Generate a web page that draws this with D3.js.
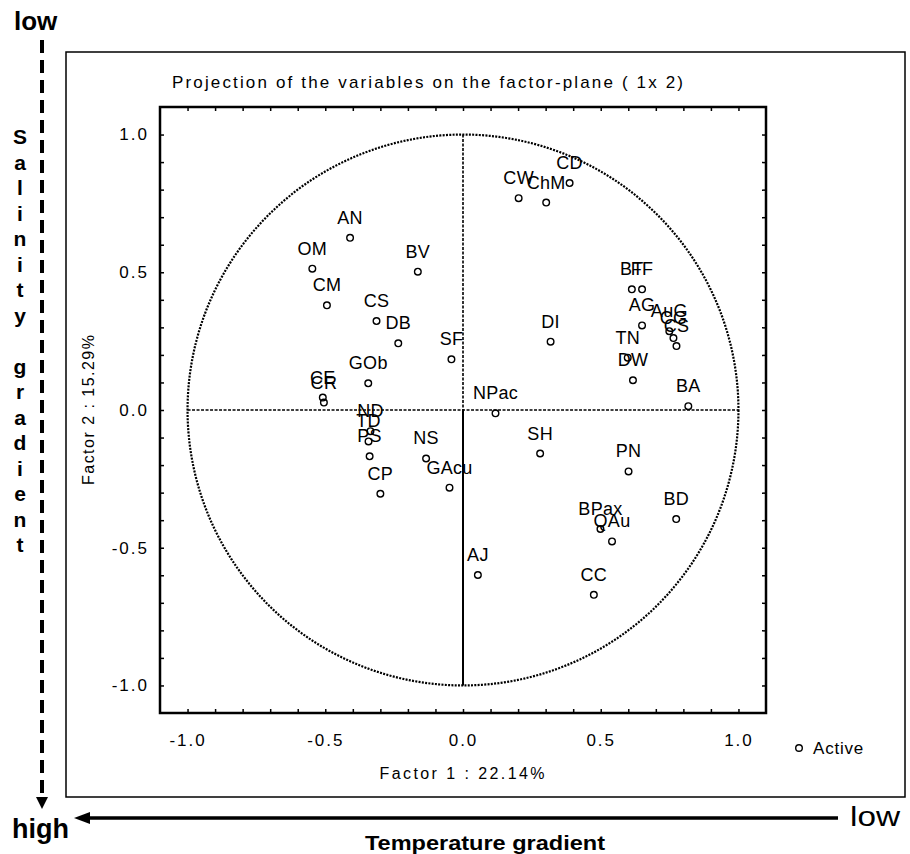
<!DOCTYPE html>
<html>
<head>
<meta charset="utf-8">
<script src="https://cdn.jsdelivr.net/npm/d3@7"></script>
<style>
  body { margin: 0; background: #fff; }
  svg { display: block; }
  text { font-family: "Liberation Sans", Arial, sans-serif; fill: #000; }
</style>
</head>
<body>
<div id="chart"></div>
<script>
// Variables projected on factor plane 1 x 2
const labels = ['CD', 'CW', 'ChM', 'AN', 'OM', 'CM', 'BV', 'CS', 'DB', 'SF', 'DI', 'GOb', 'CE', 'CR',
  'NPac', 'ND', 'TD', 'PS', 'NS', 'GAcu', 'CP', 'AJ', 'SH', 'PN', 'BD', 'BPax', 'QAu', 'CC', 'BA',
  'BT', 'FF', 'AG', 'AuG', 'CG', 'CS', 'TN', 'DW'];
const factor1 = [0.387, 0.202, 0.302, -0.410, -0.547, -0.494, -0.164, -0.314, -0.235, -0.042, 0.318, -0.344, -0.509, -0.505,
  0.118, -0.336, -0.343, -0.339, -0.134, -0.049, -0.300, 0.054, 0.280, 0.601, 0.774, 0.499, 0.541, 0.475, 0.818,
  0.613, 0.650, 0.650, 0.749, 0.764, 0.775, 0.598, 0.617];
const factor2 = [0.824, 0.769, 0.753, 0.625, 0.513, 0.380, 0.502, 0.323, 0.242, 0.184, 0.248, 0.097, 0.045, 0.027,
  -0.012, -0.077, -0.114, -0.168, -0.176, -0.282, -0.304, -0.599, -0.158, -0.223, -0.396, -0.432, -0.477, -0.671, 0.014,
  0.438, 0.438, 0.307, 0.286, 0.261, 0.232, 0.190, 0.108];

const tickValues = d3.range(-10, 11).map(i => i / 10);
const labelTicks = [-1.0, -0.5, 0.0, 0.5, 1.0];
const salinityLetters = ['S', 'a', 'l', 'i', 'n', 'i', 't', 'y', '', 'g', 'r', 'a', 'd', 'i', 'e', 'n', 't'];

const W = 910, H = 854;
const plot = { left: 160, right: 766, top: 107, bottom: 713 };

const svg = d3.select('#chart').append('svg')
  .attr('width', W)
  .attr('height', H);

// Scales
const x = d3.scaleLinear().domain([-1.1, 1.1]).range([plot.left, plot.right]);
const y = d3.scaleLinear().domain([-1.1, 1.1]).range([plot.bottom, plot.top]);

// Outer box
svg.append('rect')
  .attr('x', 66).attr('y', 52)
  .attr('width', 839).attr('height', 745)
  .attr('fill', 'none')
  .attr('stroke', '#000')
  .attr('stroke-width', 1.5);

// Title
svg.append('text')
  .attr('x', 172).attr('y', 88)
  .attr('font-size', 17)
  .attr('textLength', 511)
  .attr('lengthAdjust', 'spacing')
  .text('Projection of the variables on the factor-plane ( 1x 2)');

// Axes (inward ticks), plain hyphen for negatives
const locale = d3.formatLocale({ decimal: '.', thousands: ',', grouping: [3], currency: ['$', ''], minus: '-' });
const fmt = locale.format('.1f');
const labelFmt = d => labelTicks.some(v => Math.abs(v - d) < 1e-9) ? fmt(d) : '';

const xAxis = d3.axisBottom(x).tickValues(tickValues).tickSize(-4).tickPadding(21).tickFormat(labelFmt);
const yAxis = d3.axisLeft(y).tickValues(tickValues).tickSize(-4).tickPadding(11).tickFormat(labelFmt);
const xAxisTop = d3.axisTop(x).tickValues(tickValues).tickSize(-4).tickFormat('');
const yAxisRight = d3.axisRight(y).tickValues(tickValues).tickSize(-4).tickFormat('');

function styleAxis(g) {
  g.select('.domain').remove();
  g.selectAll('.tick line').attr('stroke', '#000').attr('stroke-width', 1.5);
  g.selectAll('.tick text')
    .attr('font-family', '"Liberation Sans", Arial, sans-serif')
    .attr('font-size', 17)
    .attr('letter-spacing', 2)
    .attr('fill', '#000');
}

svg.append('g').attr('transform', `translate(0,${plot.bottom})`).call(xAxis).call(styleAxis);
svg.append('g').attr('transform', `translate(${plot.left},0)`).call(yAxis).call(styleAxis);
svg.append('g').attr('transform', `translate(0,${plot.top})`).call(xAxisTop).call(styleAxis);
svg.append('g').attr('transform', `translate(${plot.right},0)`).call(yAxisRight).call(styleAxis);

// Plot frame
svg.append('rect')
  .attr('x', plot.left).attr('y', plot.top)
  .attr('width', plot.right - plot.left).attr('height', plot.bottom - plot.top)
  .attr('fill', 'none')
  .attr('stroke', '#000')
  .attr('stroke-width', 2.5);

// Unit circle
svg.append('circle')
  .attr('cx', x(0)).attr('cy', y(0))
  .attr('r', x(1) - x(0))
  .attr('fill', 'none')
  .attr('stroke', '#000')
  .attr('stroke-width', 2.2)
  .attr('stroke-dasharray', '2 1.3');

// Cross lines
svg.append('line')
  .attr('x1', x(-1)).attr('x2', x(1))
  .attr('y1', y(0)).attr('y2', y(0))
  .attr('stroke', '#000').attr('stroke-width', 1.6)
  .attr('stroke-dasharray', '3 1.5');
svg.append('line')
  .attr('x1', x(0)).attr('x2', x(0))
  .attr('y1', y(1)).attr('y2', y(0))
  .attr('stroke', '#000').attr('stroke-width', 1.6)
  .attr('stroke-dasharray', '3 1.5');
svg.append('line')
  .attr('x1', x(0)).attr('x2', x(0))
  .attr('y1', y(0)).attr('y2', y(-1))
  .attr('stroke', '#000').attr('stroke-width', 2);

// Points + labels
const points = labels.map((l, i) => ({ label: l, f1: factor1[i], f2: factor2[i] }));

const pts = svg.append('g').selectAll('g')
  .data(points)
  .join('g')
  .attr('transform', d => `translate(${x(d.f1)},${y(d.f2)})`);

pts.append('circle')
  .attr('r', 3.3)
  .attr('fill', 'none')
  .attr('stroke', '#000')
  .attr('stroke-width', 1.4);

pts.append('text')
  .attr('y', -14)
  .attr('text-anchor', 'middle')
  .attr('font-size', 18)
  .attr('letter-spacing', 0.3)
  .text(d => d.label);

// Axis titles
svg.append('text')
  .attr('x', 462).attr('y', 779)
  .attr('text-anchor', 'middle')
  .attr('font-size', 16)
  .attr('textLength', 165)
  .attr('lengthAdjust', 'spacing')
  .text('Factor 1 : 22.14%');

svg.append('text')
  .attr('transform', `translate(94,${y(0)}) rotate(-90)`)
  .attr('text-anchor', 'middle')
  .attr('font-size', 16)
  .attr('textLength', 150)
  .attr('lengthAdjust', 'spacing')
  .text('Factor 2 : 15.29%');

// Legend
svg.append('circle')
  .attr('cx', 799).attr('cy', 748)
  .attr('r', 3.3)
  .attr('fill', 'none')
  .attr('stroke', '#000')
  .attr('stroke-width', 1.4);
svg.append('text')
  .attr('x', 813).attr('y', 754)
  .attr('font-size', 17)
  .attr('letter-spacing', 0.8)
  .text('Active');

// Gradient annotations
const serif = '"Liberation Serif", "Times New Roman", serif';

svg.append('text')
  .attr('x', 14).attr('y', 30)
  .attr('font-family', serif)
  .attr('font-weight', 'bold')
  .attr('font-size', 26)
  .text('low');

svg.append('line')
  .attr('x1', 42).attr('x2', 42)
  .attr('y1', 40).attr('y2', 798)
  .attr('stroke', '#000').attr('stroke-width', 4)
  .attr('stroke-dasharray', '13 7');
svg.append('path')
  .attr('d', 'M36,797 L48,797 L42,809 Z')
  .attr('fill', '#000');

svg.append('g')
  .selectAll('text')
  .data(salinityLetters)
  .join('text')
  .attr('x', 20)
  .attr('y', (d, i) => 144 + i * 25.5)
  .attr('text-anchor', 'middle')
  .attr('font-weight', 'bold')
  .attr('font-size', 21)
  .text(d => d);

svg.append('text')
  .attr('x', 12).attr('y', 838)
  .attr('font-family', serif)
  .attr('font-weight', 'bold')
  .attr('font-size', 27)
  .text('high');

svg.append('line')
  .attr('x1', 838).attr('x2', 86)
  .attr('y1', 818).attr('y2', 818)
  .attr('stroke', '#000').attr('stroke-width', 3.5);
svg.append('path')
  .attr('d', 'M74,818 L90,812 L90,824 Z')
  .attr('fill', '#000');

svg.append('text')
  .attr('x', 850).attr('y', 826)
  .attr('font-family', serif)
  .attr('font-size', 28)
  .attr('textLength', 50)
  .attr('lengthAdjust', 'spacingAndGlyphs')
  .text('low');

svg.append('text')
  .attr('x', 485).attr('y', 850)
  .attr('text-anchor', 'middle')
  .attr('font-weight', 'bold')
  .attr('font-size', 21)
  .attr('textLength', 240)
  .attr('lengthAdjust', 'spacingAndGlyphs')
  .text('Temperature gradient');
</script>
</body>
</html>
